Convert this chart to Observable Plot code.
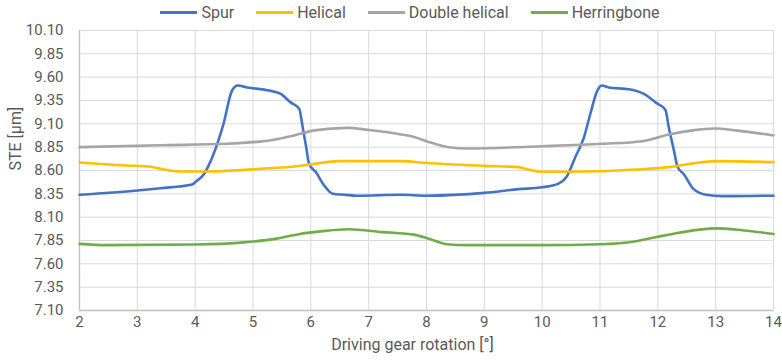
<!DOCTYPE html>
<html>
<head>
<meta charset="utf-8">
<script src="https://cdn.jsdelivr.net/npm/d3@7"></script>
<script src="https://cdn.jsdelivr.net/npm/@observablehq/plot@0.6"></script>
<style>
  html, body { margin: 0; padding: 0; background: #fff; }
  #wrap { position: relative; width: 782px; height: 364px; font-family: Roboto, "Liberation Sans", sans-serif; }
  #legend { position: absolute; left: 0; top: 3px; width: 782px; display: flex; justify-content: center; gap: 22px; font-size: 16px; color: #595959; padding-left: 38px; box-sizing: border-box; }
  .item { display: flex; align-items: center; gap: 4px; }
  .sw { display: inline-block; width: 37px; height: 3px; }
  #chart { position: absolute; left: 0; top: 0; }
</style>
</head>
<body>
<div id="wrap">
  <div id="chart"></div>
  <div id="legend"></div>
</div>
<script>
const seriesNames = ["Spur", "Helical", "Double helical", "Herringbone"];
const seriesColors = ["#4472C4", "#FFC000", "#A5A5A5", "#70AD47"];

const xTicks = [2, 3, 4, 5, 6, 7, 8, 9, 10, 11, 12, 13, 14];
const yTicks = [7.10, 7.35, 7.60, 7.85, 8.10, 8.35, 8.60, 8.85, 9.10, 9.35, 9.60, 9.85, 10.10];

const spurX = [2, 3, 3.4, 3.95, 4.0, 4.15, 4.32, 4.49, 4.64, 4.74, 4.9, 5.25, 5.48, 5.65, 5.8, 5.86, 5.92, 5.97, 6.09, 6.23, 6.38, 6.58, 6.81, 7.56, 8, 9, 9.59, 10, 10.28, 10.43, 10.57, 10.72, 10.83, 10.95, 11.03, 11.15, 11.5, 11.79, 11.96, 12.13, 12.19, 12.28, 12.34, 12.45, 12.62, 12.83, 13.12, 13.93, 14];
const spurY = [8.34, 8.386, 8.41, 8.45, 8.475, 8.56, 8.78, 9.10, 9.46, 9.51, 9.49, 9.46, 9.42, 9.33, 9.26, 9.06, 8.85, 8.67, 8.58, 8.44, 8.35, 8.34, 8.33, 8.34, 8.33, 8.36, 8.40, 8.42, 8.46, 8.54, 8.74, 8.95, 9.20, 9.45, 9.51, 9.49, 9.47, 9.41, 9.33, 9.25, 9.06, 8.81, 8.64, 8.56, 8.40, 8.34, 8.325, 8.33, 8.33];

const helicalX = [2, 2.8, 3.2, 3.4, 3.74, 4.26, 5.13, 5.71, 6.06, 6.47, 7.56, 8, 9, 9.59, 9.76, 10, 10.46, 11.62, 12.19, 12.6, 13, 14];
const helicalY = [8.686, 8.654, 8.643, 8.618, 8.59, 8.59, 8.618, 8.643, 8.671, 8.70, 8.70, 8.68, 8.65, 8.636, 8.61, 8.586, 8.586, 8.61, 8.636, 8.675, 8.70, 8.69];

const doubleX = [2, 3.4, 4.55, 5.36, 5.71, 6.06, 6.64, 6.98, 7.56, 7.8, 8, 8.38, 8.72, 10, 11.03, 11.73, 12.19, 12.6, 13, 13.35, 14];
const doubleY = [8.85, 8.87, 8.886, 8.93, 8.975, 9.03, 9.057, 9.036, 8.986, 8.957, 8.914, 8.85, 8.836, 8.86, 8.886, 8.914, 8.986, 9.03, 9.05, 9.03, 8.975];

const herringX = [2, 2.46, 4, 4.85, 5.41, 5.81, 6.2, 6.65, 7.24, 7.8, 8.04, 8.36, 8.68, 10, 11, 11.6, 12.0, 12.34, 13, 13.46, 14];
const herringY = [7.814, 7.80, 7.807, 7.83, 7.87, 7.92, 7.95, 7.97, 7.94, 7.91, 7.87, 7.81, 7.80, 7.80, 7.81, 7.84, 7.89, 7.93, 7.98, 7.96, 7.92];

const xTitle = "Driving gear rotation [°]";
const yTitle = "STE [µm]";

const allX = [spurX, helicalX, doubleX, herringX];
const allY = [spurY, helicalY, doubleY, herringY];
const rows = [];
allX.forEach((xs, i) => xs.forEach((x, j) => rows.push({series: seriesNames[i], x, y: allY[i][j]})));

const chart = Plot.plot({
  width: 782,
  height: 364,
  marginTop: 30,
  marginBottom: 54,
  marginLeft: 79,
  marginRight: 9,
  style: {fontFamily: "Roboto, 'Liberation Sans', sans-serif", fontSize: "15px", color: "#595959", background: "transparent"},
  x: {domain: [2, 14]},
  y: {domain: [7.10, 10.10]},
  color: {domain: seriesNames, range: seriesColors},
  marks: [
    Plot.gridX(xTicks, {stroke: "#d9d9d9", strokeOpacity: 1, strokeWidth: 1}),
    Plot.gridY(yTicks, {stroke: "#d9d9d9", strokeOpacity: 1, strokeWidth: 1}),
    Plot.ruleY([7.10], {stroke: "#bfbfbf", strokeWidth: 1.3}),
    Plot.ruleX([2], {stroke: "#bfbfbf", strokeWidth: 1.3}),
    Plot.axisX(xTicks, {tickSize: 0, tickPadding: 6, tickFormat: d => String(d), label: null, fontSize: 15, fill: "#595959"}),
    Plot.axisY(yTicks, {tickSize: 0, tickPadding: 16, tickFormat: d => d.toFixed(2), label: null, fontSize: 15, fill: "#595959"}),
    Plot.line(rows, {x: "x", y: "y", z: "series", stroke: "series", strokeWidth: 2.6, curve: "monotone-x"}),
    Plot.text([xTitle], {frameAnchor: "bottom", dy: 39, dx: -14, text: d => d, fontSize: 16, fill: "#595959"}),
    Plot.text([yTitle], {frameAnchor: "left", dx: -64, rotate: -90, text: d => d, fontSize: 16, fill: "#595959"})
  ]
});
document.getElementById("chart").appendChild(chart);

const legend = document.getElementById("legend");
seriesNames.forEach((name, i) => {
  const item = document.createElement("div");
  item.className = "item";
  const sw = document.createElement("span");
  sw.className = "sw";
  sw.style.background = seriesColors[i];
  const label = document.createElement("span");
  label.textContent = name;
  item.appendChild(sw);
  item.appendChild(label);
  legend.appendChild(item);
});
</script>
</body>
</html>
